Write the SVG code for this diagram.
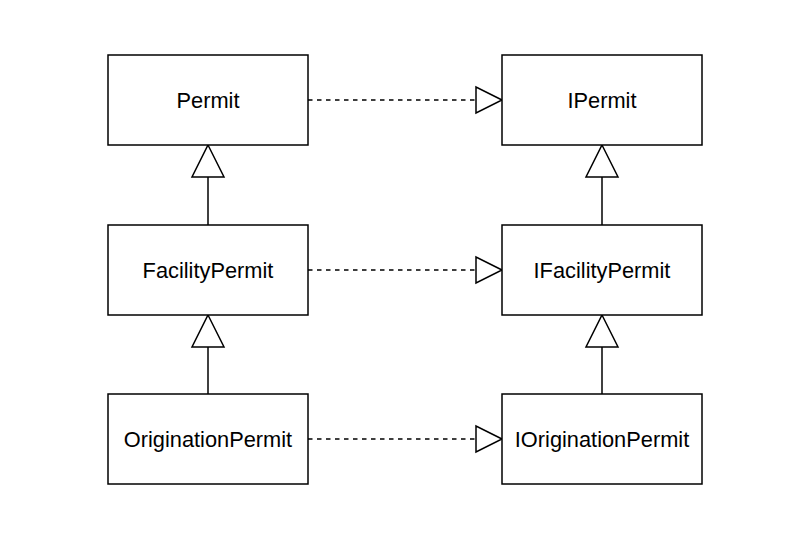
<svg xmlns="http://www.w3.org/2000/svg" width="812" height="550" viewBox="0 0 812 550">
<style>
.box{fill:#fff;stroke:#000;stroke-width:1.5}
.lbl{font-family:"Liberation Sans",Arial,sans-serif;font-size:21.8px;fill:#000;text-anchor:middle;dominant-baseline:central}
.ln{fill:none;stroke:#000;stroke-width:1.5}
.dash{stroke-dasharray:4.5 4.5}
.tri{fill:#fff;stroke:#000;stroke-width:1.5}
</style>
<rect width="812" height="550" fill="#fff"/>
<g id="connectors">
<path class="ln" d="M208 225 V177"/>
<path class="tri" d="M208 145 L224 177 L192 177 Z"/>
<path class="ln" d="M208 394 V347"/>
<path class="tri" d="M208 315 L224 347 L192 347 Z"/>
<path class="ln" d="M602 225 V177"/>
<path class="tri" d="M602 145 L618 177 L586 177 Z"/>
<path class="ln" d="M602 394 V347"/>
<path class="tri" d="M602 315 L618 347 L586 347 Z"/>
<path class="ln dash" d="M308 100 H476"/>
<path class="tri" d="M502 100 L476 87 L476 113 Z"/>
<path class="ln dash" d="M308 270 H476"/>
<path class="tri" d="M502 270 L476 257 L476 283 Z"/>
<path class="ln dash" d="M308 439 H476"/>
<path class="tri" d="M502 439 L476 426 L476 452 Z"/>
</g>
<g id="permit"><rect class="box" x="108" y="55" width="200" height="90"/><text class="lbl" x="208" y="100">Permit</text></g>
<g id="ipermit"><rect class="box" x="502" y="55" width="200" height="90"/><text class="lbl" x="602" y="100">IPermit</text></g>
<g id="facilitypermit"><rect class="box" x="108" y="225" width="200" height="90"/><text class="lbl" x="208" y="270">FacilityPermit</text></g>
<g id="ifacilitypermit"><rect class="box" x="502" y="225" width="200" height="90"/><text class="lbl" x="602" y="270">IFacilityPermit</text></g>
<g id="originationpermit"><rect class="box" x="108" y="394" width="200" height="90"/><text class="lbl" x="208" y="439">OriginationPermit</text></g>
<g id="ioriginationpermit"><rect class="box" x="502" y="394" width="200" height="90"/><text class="lbl" x="602" y="439">IOriginationPermit</text></g>
</svg>
